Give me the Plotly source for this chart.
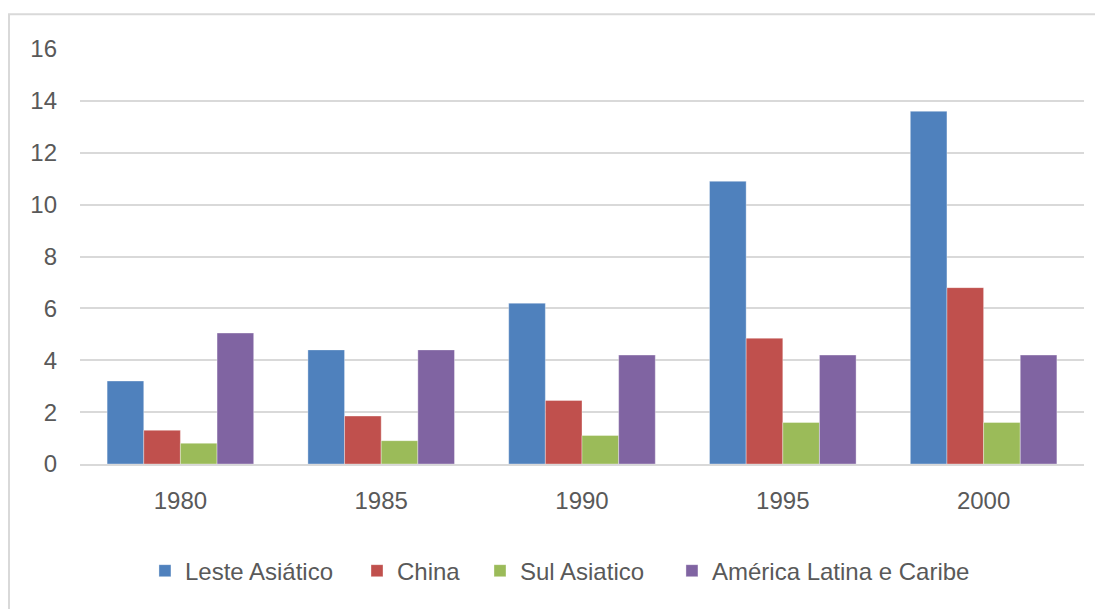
import plotly.graph_objects as go

years = ["1980", "1985", "1990", "1995", "2000"]
leste_asiatico = [3.2, 4.4, 6.2, 10.9, 13.6]
china = [1.3, 1.85, 2.45, 4.85, 6.8]
sul_asiatico = [0.8, 0.9, 1.1, 1.6, 1.6]
america_latina = [5.05, 4.4, 4.2, 4.2, 4.2]

series_names = ["Leste Asiático", "China", "Sul Asiatico", "América Latina e Caribe"]
series_values = [leste_asiatico, china, sul_asiatico, america_latina]
colors = ["#4F81BD", "#C0504D", "#9BBB59", "#8064A2"]
y_ticks = [0, 2, 4, 6, 8, 10, 12, 14, 16]

FONT = "Liberation Sans"
TXT = "#595959"

legend_ids = ["legend", "legend2", "legend3", "legend4"]
legend_x = [0.0647, 0.2759, 0.3984, 0.5896]

fig = go.Figure()
for name, vals, col, lid in zip(series_names, series_values, colors, legend_ids):
    fig.add_trace(go.Bar(
        x=years, y=vals, name=name, legend=lid,
        marker=dict(color=col, line=dict(color="rgba(255,255,255,0.35)", width=1)),
    ))

legend_common = dict(
    orientation="h", yanchor="middle", y=-0.258, xanchor="left",
    font=dict(family=FONT, size=24, color=TXT), bgcolor="rgba(0,0,0,0)",
)
layout_legends = {}
for lid, lx in zip(legend_ids, legend_x):
    layout_legends[lid] = dict(legend_common, x=lx)

fig.update_layout(
    width=1103, height=609,
    margin=dict(l=72, r=27, t=41, b=153),
    paper_bgcolor="white", plot_bgcolor="white",
    barmode="group", bargap=0.27, bargroupgap=0,
    font=dict(family=FONT, size=24, color=TXT),
    showlegend=True,
    shapes=[dict(
        type="rect", xref="paper", yref="paper",
        x0=-0.0707, x1=1.04, y0=-0.40, y1=1.084,
        line=dict(color="#D9D9D9", width=2), fillcolor="rgba(0,0,0,0)",
        layer="below",
    )],
    **layout_legends,
)
fig.update_xaxes(
    showgrid=False, showline=True, linecolor="#D9D9D9", linewidth=2,
    ticks="", tickfont=dict(family=FONT, size=24, color=TXT),
    ticklabelstandoff=14,
)
fig.update_yaxes(
    range=[0, 16], tickvals=y_ticks, showgrid=True, gridcolor="#D9D9D9", gridwidth=2,
    zeroline=False, showline=False, ticks="",
    tickfont=dict(family=FONT, size=24, color=TXT),
    ticklabelstandoff=22,
)

fig.write_html("out.html")
